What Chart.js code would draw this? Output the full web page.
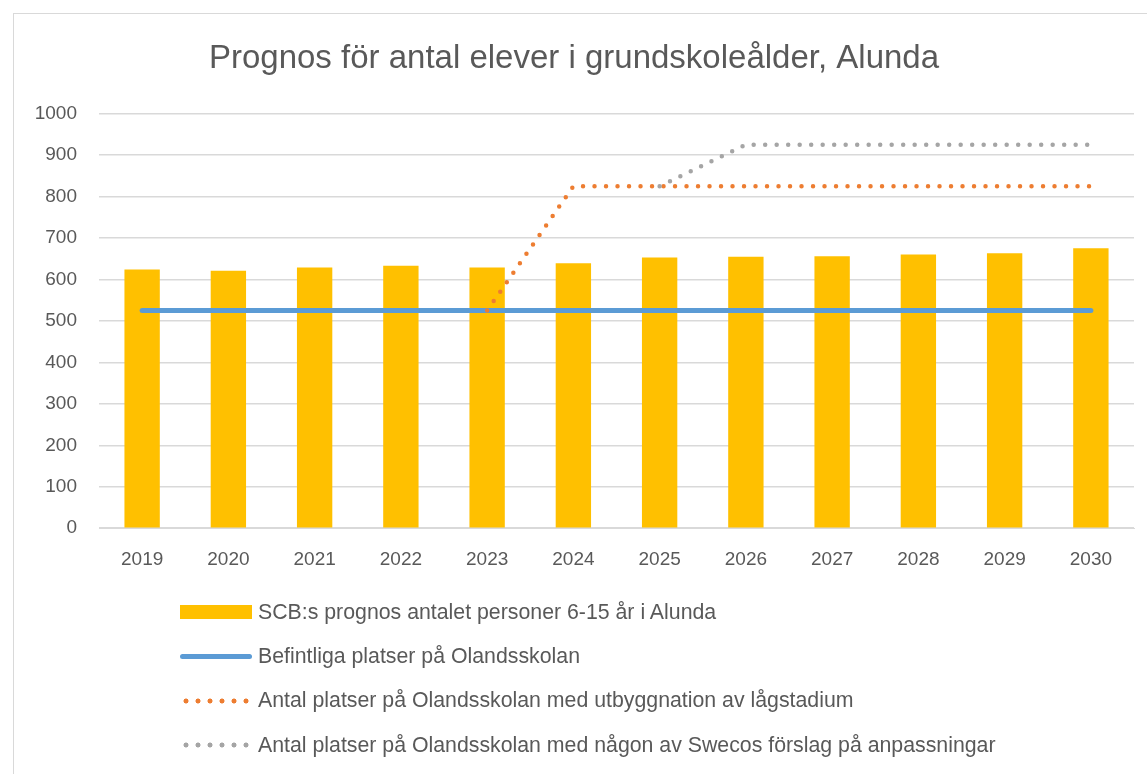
<!DOCTYPE html>
<html>
<head>
<meta charset="utf-8">
<script src="https://cdn.jsdelivr.net/npm/chart.js@4"></script>
<style>
  body { margin: 0; background: #fff; font-family: "Liberation Sans", Arial, sans-serif; }
  #box { position: absolute; left: 13px; top: 13px; width: 1140px; height: 770px; border: 1px solid #d9d9d9; box-sizing: border-box; }
  #wrap { position: absolute; left: 0; top: 0; width: 1134px; height: 590px; }
  #legend { position: absolute; left: 166px; top: 576px; color: #595959; font-size: 21.3px; }
  .item { height: 44.3px; display: flex; align-items: center; }
  .sym { width: 72px; height: 14px; margin-right: 6px; position: relative; }
</style>
</head>
<body>
<div id="box">
  <div id="wrap"><canvas id="c"></canvas></div>
  <div id="legend"></div>
</div>
<script>
// Prognos för antal elever i grundskoleålder
const years = ['2019', '2020', '2021', '2022', '2023', '2024', '2025', '2026', '2027', '2028', '2029', '2030'];
const scbPrognos = [624, 621, 629, 633, 629, 639, 653, 655, 656, 660, 663, 675];
const befintliga = [525, 525, 525, 525, 525, 525, 525, 525, 525, 525, 525, 525];
const lagstadium = [null, null, null, null, 525, 825, 825, 825, 825, 825, 825, 825];
const swecos = [null, null, null, null, null, null, 825, 925, 925, 925, 925, 925];
const yTicks = [0, 100, 200, 300, 400, 500, 600, 700, 800, 900, 1000];

const textColor = '#595959';

const chart = new Chart(document.getElementById('c'), {
    type: 'bar',
    data: {
        labels: years,
        datasets: [
            {
                type: 'line',
                label: 'Antal platser på Olandsskolan med någon av Swecos förslag på anpassningar',
                data: swecos,
                borderColor: '#A5A5A5',
                borderWidth: 4.5,
                borderDash: [0, 11.5],
                borderCapStyle: 'round',
                pointRadius: 0,
                order: 0
            },
            {
                type: 'line',
                label: 'Antal platser på Olandsskolan med utbyggnation av lågstadium',
                data: lagstadium,
                borderColor: '#ED7D31',
                borderWidth: 4.5,
                borderDash: [0, 11.5],
                borderCapStyle: 'round',
                pointRadius: 0,
                order: 1
            },
            {
                type: 'line',
                label: 'Befintliga platser på Olandsskolan',
                data: befintliga,
                borderColor: '#5B9BD5',
                borderWidth: 5,
                borderCapStyle: 'round',
                pointRadius: 0,
                order: 2
            },
            {
                label: 'SCB:s prognos antalet personer 6-15 år i Alunda',
                data: scbPrognos,
                backgroundColor: '#FFC000',
                categoryPercentage: 1,
                barPercentage: 0.41,
                order: 3
            }
        ]
    },
    options: {
        responsive: true,
        maintainAspectRatio: false,
        animation: false,
        layout: { padding: { left: 0, right: 14, top: 0, bottom: 21 } },
        plugins: {
            legend: { display: false },
            tooltip: { enabled: false },
            title: {
                display: true,
                text: 'Prognos för antal elever i grundskoleålder, Alunda',
                color: textColor,
                font: { family: 'Liberation Sans', size: 33, weight: 'normal' },
                padding: { top: 25, bottom: 35 }
            }
        },
        scales: {
            x: {
                grid: { display: false },
                border: { color: '#d9d9d9' },
                ticks: { color: textColor, font: { family: 'Liberation Sans', size: 19 }, padding: 12 }
            },
            y: {
                min: 0,
                max: 1000,
                afterBuildTicks: scale => { scale.ticks = yTicks.map(v => ({ value: v })); },
                afterFit: scale => { scale.width = 85; },
                grid: { color: '#d9d9d9', lineWidth: 1.5, drawTicks: false },
                border: { display: false },
                ticks: { color: textColor, font: { family: 'Liberation Sans', size: 19 }, padding: 22, callback: v => String(v) }
            }
        }
    }
});

// legend below the chart, one item per row, built from the datasets
const legendOrder = [3, 2, 1, 0];
const legendEl = document.getElementById('legend');
legendOrder.forEach(i => {
    const ds = chart.data.datasets[i];
    const row = document.createElement('div');
    row.className = 'item';
    const sym = document.createElement('div');
    sym.className = 'sym';
    if (!ds.type) {
        sym.style.background = ds.backgroundColor;
    } else if (!ds.borderDash) {
        sym.style.height = '5px';
        sym.style.borderRadius = '3px';
        sym.style.background = ds.borderColor;
    } else {
        sym.style.height = '6px';
        sym.style.background = 'radial-gradient(circle, ' + ds.borderColor + ' 2.2px, transparent 2.8px)';
        sym.style.backgroundSize = '12px 6px';
        sym.style.backgroundRepeat = 'repeat-x';
    }
    const txt = document.createElement('span');
    txt.textContent = ds.label;
    row.appendChild(sym);
    row.appendChild(txt);
    legendEl.appendChild(row);
});
</script>
</body>
</html>
